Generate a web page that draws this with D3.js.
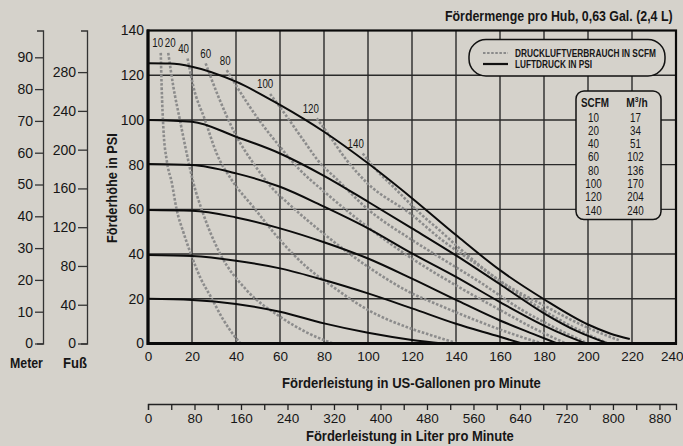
<!DOCTYPE html>
<html><head><meta charset="utf-8">
<script src="https://cdn.jsdelivr.net/npm/d3@7"></script>
<style>
html,body{margin:0;padding:0;background:#d5d2cb;}
svg{display:block;}
text{font-family:'Liberation Sans',Arial,sans-serif;fill:#161616;}
</style></head><body>
<svg id="chart" width="683" height="446"></svg>
<script>
// ---------- data ----------
const flowTicks = [0,20,40,60,80,100,120,140,160,180,200,220,240];
const psiTicks = [0,20,40,60,80,100,120,140];
const meterTicks = [0,10,20,30,40,50,60,70,80,90];
const footTicks = [0,40,80,120,160,200,240,280];
const literTicks = [0,40,80,120,160,200,240,280,320,360,400,440,480,520,560,600,640,680,720,760,800,840,880];
const literLabels = [0,80,160,240,320,400,480,560,640,720,800,880];

const scfmLevels = [10,20,40,60,80,100,120,140];
const m3hValues  = [17,34,51,102,136,170,204,240];

// solid curves: air pressure (psi) -> [gpm, head psi]
const psi125 = [[0,125.3],[10,125.2],[20,123.8],[40,117.1],[60,106.7],[80,94.7],[100,80.6],[120,65],[140,48.5],[160,32.8],[180,19.8],[200,8.5],[210,4.5],[219,2]];
const psi100 = [[0,100],[20,99.2],[40,92.5],[60,85],[80,75],[100,63.4],[120,51.5],[140,39.4],[160,26.5],[180,13.5],[195,5.5],[209,0]];
const psi80  = [[0,80.3],[20,79.8],[40,76.1],[60,70.1],[80,61.2],[100,51.5],[120,40.3],[140,29.8],[160,18.5],[180,8],[190,3.5],[199,0]];
const psi60  = [[0,59.7],[20,59.4],[40,56.4],[60,51.5],[80,45.3],[100,38],[120,29],[140,19.5],[160,10.3],[175,4.3],[186,0]];
const psi40  = [[0,39.6],[20,39.1],[40,37],[60,33.6],[80,28.4],[100,22.4],[120,15.7],[140,8.8],[160,3],[170,0]];
const psi20  = [[0,20],[20,19.5],[40,17.7],[60,14.2],[80,9],[100,4.8],[120,1.6],[134,0]];

// dashed curves: air consumption (SCFM)
const scfm10  = [[5.8,130],[6.2,115],[7,96],[8.5,82],[10.8,72],[13,60],[16,50],[19.5,40],[24,29],[28.5,21],[34,11],[38,5],[42,0]];
const scfm20  = [[9.2,130],[11.5,115],[14.5,100],[17.6,85],[20.6,72],[25.1,58],[32.7,40.3],[44.8,23.9],[60,12],[72,5],[84,0]];
const scfm40  = [[18,127.5],[20.6,115],[25.9,100],[31.2,85],[38.5,72.5],[47.9,61],[60,46.3],[72,34.3],[84,25.4],[100,15],[120,6.5],[131,3],[141,0]];
const scfm60  = [[26.2,125.3],[32,110.4],[40.3,92.5],[47.9,80.6],[56,70],[64.5,62],[80,49],[100,34.3],[120,22.4],[132.7,17],[150,10],[165,4.5],[179,0]];
const scfm80  = [[35.8,122.3],[40.3,115],[49.4,101.4],[60,88],[69.1,77.6],[80,68],[100,52],[120,38],[140,26],[160,15],[175,7],[190,0]];
const scfm100 = [[55.5,111.6],[61.5,103.7],[70.6,91],[79,79.8],[84.2,75],[100,60],[120,46.3],[132.7,38.5],[150,28],[170,15],[185,7],[200,0]];
const scfm120 = [[76.7,100.7],[81.2,94.7],[90.3,82],[99.4,72],[120,57.5],[132.7,47],[150,35],[170,21],[190,9],[209,0]];
const scfm140 = [[97.6,85],[102.4,79.1],[111.5,70.1],[125,57],[132.7,50.5],[140,44],[160,28],[180,17],[200,7],[214,1.5]];

const pressureCurves = [psi125, psi100, psi80, psi60, psi40, psi20];
const scfmCurves = [scfm10, scfm20, scfm40, scfm60, scfm80, scfm100, scfm120, scfm140];

// ---------- drawing ----------
const svg = d3.select('#chart');
const BG = '#d5d2cb';
svg.append('rect').attr('width',683).attr('height',446).attr('fill',BG);

// condensed text: horizontally scaled to a target width
function cText(parent, str, tx, ty, size, weight, targetW, anchor, rot){
  const t = parent.append('text').attr('font-size',size).attr('font-weight',weight||'normal')
    .attr('text-anchor',anchor||'start').text(str);
  const w = t.node().getComputedTextLength();
  const f = targetW ? targetW/w : 1;
  t.attr('transform',`translate(${tx},${ty})${rot?` rotate(${rot})`:''} scale(${f.toFixed(3)},1)`);
  return t;
}

const x = d3.scaleLinear().domain([0,240]).range([148,676]);
const y = d3.scaleLinear().domain([0,140]).range([343.5,30.5]);
const PSI_TO_M = 0.70307, PSI_TO_FT = 2.3067, GAL_TO_L = 3.78541;
const yM = d3.scaleLinear().domain([0,140*PSI_TO_M]).range([343.5,30.5]);
const yF = d3.scaleLinear().domain([0,140*PSI_TO_FT]).range([343.5,30.5]);
const xL = d3.scaleLinear().domain([0,240*GAL_TO_L]).range([148,676]);

// grid
const grid = svg.append('g').attr('stroke','#2a2a2a').attr('stroke-width',1.4);
flowTicks.slice(1,-1).forEach(v=>grid.append('line').attr('x1',x(v)).attr('x2',x(v)).attr('y1',y(0)).attr('y2',y(140)));
psiTicks.slice(1,-1).forEach(v=>grid.append('line').attr('x1',x(0)).attr('x2',x(240)).attr('y1',y(v)).attr('y2',y(v)));

// legend box
const lg = svg.append('g');
lg.append('rect').attr('x',469).attr('y',39.5).attr('width',196).attr('height',36.5).attr('rx',17)
  .attr('fill',BG).attr('stroke','#111').attr('stroke-width',1.5);
lg.append('line').attr('x1',483).attr('x2',508).attr('y1',53).attr('y2',53).attr('stroke','#8a8a8a').attr('stroke-width',2.2).attr('stroke-dasharray','2.5,1.6');
lg.append('line').attr('x1',483).attr('x2',508).attr('y1',64).attr('y2',64).attr('stroke','#111').attr('stroke-width',2.2);
cText(lg,'DRUCKLUFTVERBRAUCH IN SCFM',515,57,11,'bold',141);
cText(lg,'LUFTDRUCK IN PSI',515,68,11,'bold',77);

// table box
const tb = svg.append('g');
tb.append('rect').attr('x',576).attr('y',91).attr('width',85).attr('height',128.5).attr('rx',8)
  .attr('fill',BG).attr('stroke','#111').attr('stroke-width',1.5);
cText(tb,'SCFM',581,107,12,'bold',28);
const mh = tb.append('text').attr('font-size',12).attr('font-weight','bold').attr('text-anchor','middle')
  .attr('transform','translate(637,107) scale(0.85,1)');
mh.append('tspan').text('M');
mh.append('tspan').attr('dy',-5).attr('font-size',8).text('3');
mh.append('tspan').attr('dy',5).text('/h');
scfmLevels.forEach((s,i)=>{
  const yy = 121.5 + i*13.3;
  tb.append('text').attr('font-size',12).attr('text-anchor','middle').attr('transform',`translate(593.5,${yy}) scale(0.82,1)`).text(s);
  tb.append('text').attr('font-size',12).attr('text-anchor','middle').attr('transform',`translate(635.5,${yy}) scale(0.82,1)`).text(m3hValues[i]);
});

// curves
const line = d3.line().x(d=>x(d[0])).y(d=>y(d[1])).curve(d3.curveMonotoneX);
const cg = svg.append('g').attr('fill','none');
scfmCurves.forEach(c=>cg.append('path').attr('d',line(c)).attr('stroke','#8c8c8c').attr('stroke-width',2.6).attr('stroke-dasharray','2.6,1.7'));
pressureCurves.forEach(c=>cg.append('path').attr('d',line(c)).attr('stroke','#0c0c0c').attr('stroke-width',2));

// SCFM labels on curves
const nudge = [-3,2,-4,0,-1.5,-5,-6,-7];
scfmCurves.forEach((c,i)=>{
  svg.append('text').attr('font-size',12.5).attr('text-anchor','middle')
    .attr('transform',`translate(${x(c[0][0])+nudge[i]},${y(c[0][1])-5.5}) scale(0.78,1)`).text(scfmLevels[i]);
});

// frame
svg.append('rect').attr('x',x(0)).attr('y',y(140)).attr('width',x(240)-x(0)).attr('height',y(0)-y(140))
  .attr('fill','none').attr('stroke','#0a0a0a').attr('stroke-width',2.2);
svg.append('line').attr('x1',x(0)).attr('x2',x(0)).attr('y1',y(140)-1).attr('y2',y(0)+1.5).attr('stroke','#0a0a0a').attr('stroke-width',3.2);
svg.append('line').attr('x1',x(0)).attr('x2',x(240)+1).attr('y1',y(0)).attr('y2',y(0)).attr('stroke','#0a0a0a').attr('stroke-width',3.2);

// main y axis labels
const ya = svg.append('g').attr('transform',`translate(${x(0)-4},0)`)
  .call(d3.axisLeft(y).tickValues(psiTicks).tickSize(0).tickPadding(0));
ya.select('.domain').remove();
ya.selectAll('text').attr('font-size',14).attr('font-family',null).attr('fill','#161616');

// main x axis labels
const xa = svg.append('g').attr('transform',`translate(0,${y(0)+4})`)
  .call(d3.axisBottom(x).tickValues(flowTicks).tickSize(0).tickPadding(4));
xa.select('.domain').remove();
xa.selectAll('text').attr('font-size',13.5).attr('font-family',null).attr('fill','#161616');
xa.selectAll('text').filter(d=>d===240).attr('text-anchor','end').attr('dx',7);

// liter axis
const la = svg.append('g').attr('transform','translate(0,404)')
  .call(d3.axisBottom(xL).tickValues(literTicks).tickSize(6).tickSizeOuter(6).tickPadding(3)
    .tickFormat(d=>literLabels.includes(d)?d:''));
la.select('.domain').attr('stroke','#222').attr('stroke-width',1.3);
la.selectAll('line').attr('stroke','#222').attr('stroke-width',1.3);
la.selectAll('text').attr('font-size',13.5).attr('font-family',null).attr('fill','#161616');

// meter axis
const ma = svg.append('g').attr('transform','translate(43,0)')
  .call(d3.axisLeft(yM).tickValues(meterTicks).tickSize(8).tickSizeOuter(6).tickPadding(2));
ma.selectAll('path,line').attr('stroke','#333').attr('stroke-width',1.3);
ma.selectAll('text').attr('font-size',14).attr('font-family',null).attr('fill','#161616');

// foot axis
const fa = svg.append('g').attr('transform','translate(87,0)')
  .call(d3.axisLeft(yF).tickValues(footTicks).tickSize(9).tickSizeOuter(6).tickPadding(2));
fa.selectAll('path,line').attr('stroke','#333').attr('stroke-width',1.3);
fa.selectAll('text').attr('font-size',14).attr('font-family',null).attr('fill','#161616');

// titles
cText(svg,'Fördermenge pro Hub, 0,63 Gal. (2,4 L)',445,21,14,'bold',228);
cText(svg,'Förderleistung in US-Gallonen pro Minute',282,388,15,'bold',259);
cText(svg,'Förderleistung in Liter pro Minute',306,441,15,'bold',208);
cText(svg,'Förderhöhe in PSI',117,243,15,'bold',110,'start',-90);
cText(svg,'Meter',10,368,14,'bold',33);
cText(svg,'Fuß',63,368,14,'bold',24);
</script>
</body></html>
